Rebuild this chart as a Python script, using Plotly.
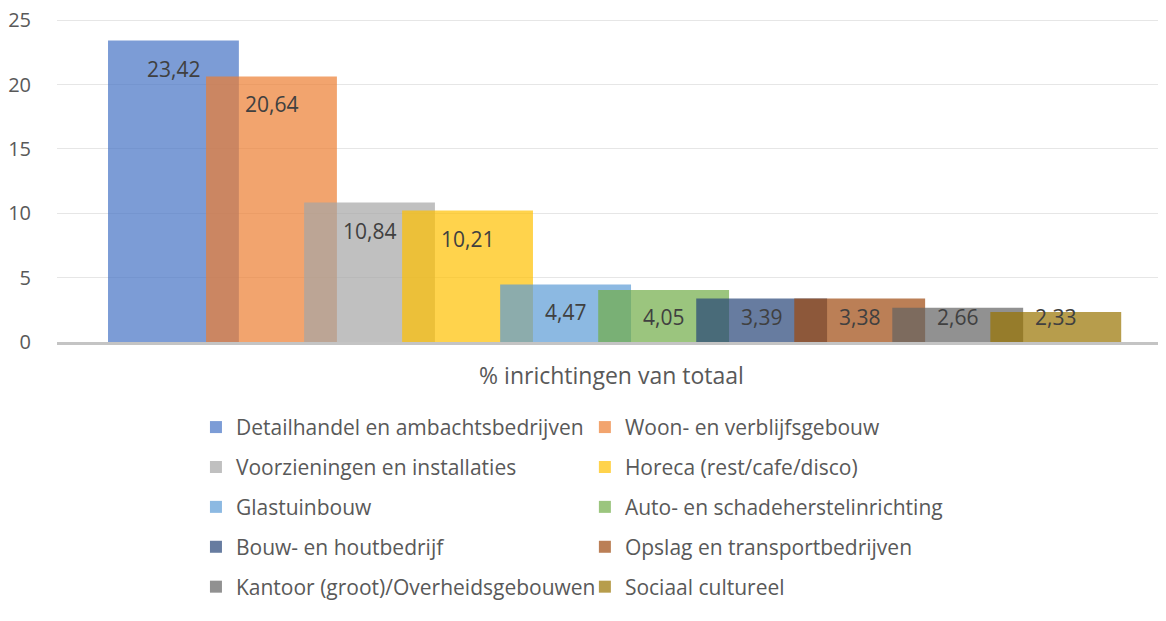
import plotly.graph_objects as go

category = ["% inrichtingen van totaal"]
names = [
    "Detailhandel en ambachtsbedrijven",
    "Woon- en verblijfsgebouw",
    "Voorzieningen en installaties",
    "Horeca (rest/cafe/disco)",
    "Glastuinbouw",
    "Auto- en schadeherstelinrichting",
    "Bouw- en houtbedrijf",
    "Opslag en transportbedrijven",
    "Kantoor (groot)/Overheidsgebouwen",
    "Sociaal cultureel",
]
values = [23.42, 20.64, 10.84, 10.21, 4.47, 4.05, 3.39, 3.38, 2.66, 2.33]
colors = ["68,114,196", "237,125,49", "165,165,165", "255,192,0", "91,155,213",
          "112,173,71", "38,68,120", "158,72,14", "99,99,99", "153,115,0"]

FONT = "Open Sans"
bar_w = 0.118
step = 0.0884
start = -0.454
px_per_unit = 322 / 25  # plot scale, used to keep labels inside short bars

fig = go.Figure()
for i, (n, v, c) in enumerate(zip(names, values, colors)):
    off = start + i * step
    fig.add_trace(go.Bar(
        x=category, y=[v], name=n,
        offset=off, width=bar_w,
        marker=dict(color="rgba(%s,0.7)" % c, line=dict(width=0)),
        legend="legend" if i % 2 == 0 else "legend2",
        legendgroup=n, hoverinfo="name+y",
    ))
    # value label "inside end", like excel (clamped near the base)
    fig.add_annotation(
        x=off + bar_w / 2, y=v, text=("%.2f" % v).replace(".", ","),
        showarrow=False, yanchor="middle",
        yshift=-min(28, v * px_per_unit - 25.3),
        font=dict(family=FONT, size=21, color="#404040"),
    )

legend_style = dict(
    font=dict(family=FONT, size=21, color="#595959"),
    xref="paper", yref="paper", xanchor="left", yanchor="top",
    y=-0.201, tracegroupgap=9.6, bgcolor="rgba(0,0,0,0)", itemwidth=30,
)

fig.update_layout(
    barmode="overlay",
    width=1166, height=621,
    margin=dict(l=49, r=8, t=10.7, b=287, autoexpand=False),
    plot_bgcolor="white", paper_bgcolor="white",
    font=dict(family=FONT, size=20, color="#595959"),
    showlegend=True,
    legend=dict(x=0.1253, **legend_style),
    legend2=dict(x=0.476, **legend_style),
    xaxis=dict(range=[-0.5, 0.5], showline=True, linecolor="#C4C4C4", linewidth=2.5,
               showgrid=False, ticks="", ticklabelstandoff=12,
               tickfont=dict(size=23, color="#595959")),
    yaxis=dict(range=[0, 25.1], tickvals=[0, 5, 10, 15, 20, 25], showgrid=True,
               gridcolor="#E6E6E6", zeroline=False, ticks="", ticklabelstandoff=25,
               ticklabeloverflow="allow", tickfont=dict(size=20, color="#595959")),
)

fig.write_html("out.html")
